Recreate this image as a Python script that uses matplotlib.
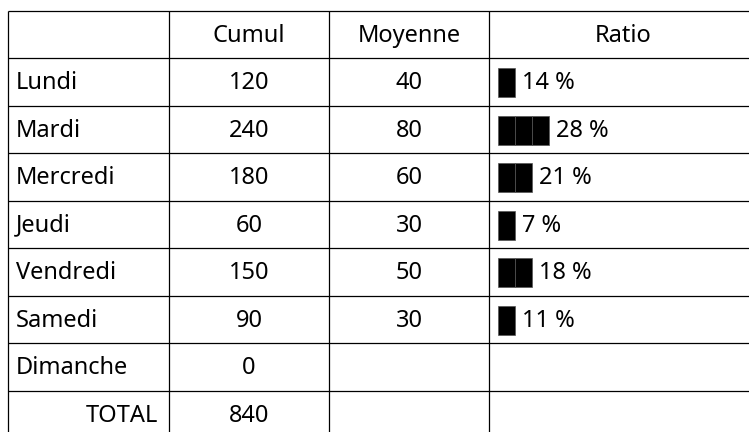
import matplotlib.pyplot as plt
from matplotlib.patches import Rectangle

plt.rcParams['font.family'] = ['Noto Sans', 'DejaVu Sans']

# table content
jours = ['Lundi', 'Mardi', 'Mercredi', 'Jeudi', 'Vendredi', 'Samedi', 'Dimanche']
cumul = [120, 240, 180, 60, 150, 90, 0]
moyenne = [40, 80, 60, 30, 50, 30, None]
ratio = [14, 28, 21, 7, 18, 11, None]
blocs = [1, 3, 2, 1, 2, 1, 0]
total = 840
entetes = ['', 'Cumul', 'Moyenne', 'Ratio']

# layout (pixels)
W, H = 749, 432
top, rh = 10.5, 47.5
cols = [8, 169, 329, 489, 757]
fs = 17

fig = plt.figure(figsize=(W / 100, H / 100), dpi=100)
ax = fig.add_axes([0, 0, 1, 1])
ax.set_xlim(0, W)
ax.set_ylim(H, 0)
ax.axis('off')

nrows = len(jours) + 2
for i in range(nrows + 1):
    ax.hlines(top + i * rh, cols[0], W, color='black', lw=0.9)
for x in cols[:4]:
    ax.vlines(x, top, H, color='black', lw=0.9)

def centre(c):
    return (cols[c] + cols[c + 1]) / 2

def ymid(r):
    return top + r * rh + rh / 2 + 1.5

for c, t in enumerate(entetes):
    ax.text(centre(c), ymid(0), t, ha='center', va='center', fontsize=fs)

for r, j in enumerate(jours, start=1):
    k = r - 1
    ax.text(cols[0] + 8, ymid(r), j, ha='left', va='center', fontsize=fs)
    ax.text(centre(1), ymid(r), str(cumul[k]), ha='center', va='center', fontsize=fs)
    if moyenne[k] is not None:
        ax.text(centre(2), ymid(r), str(moyenne[k]), ha='center', va='center', fontsize=fs)
    if ratio[k] is not None:
        x0 = cols[3] + 9
        for b in range(blocs[k]):
            ax.add_patch(Rectangle((x0 + b * 17, ymid(r) - 15), 17, 29,
                                   facecolor='black', edgecolor='#555555', lw=0.5))
        ax.text(x0 + blocs[k] * 17 + 7, ymid(r), f'{ratio[k]} %', ha='left',
                va='center', fontsize=fs)

r = len(jours) + 1
ax.text(cols[1] - 11, ymid(r), 'TOTAL', ha='right', va='center', fontsize=fs)
ax.text(centre(1), ymid(r), str(total), ha='center', va='center', fontsize=fs)

plt.savefig('out.png', dpi=100)
